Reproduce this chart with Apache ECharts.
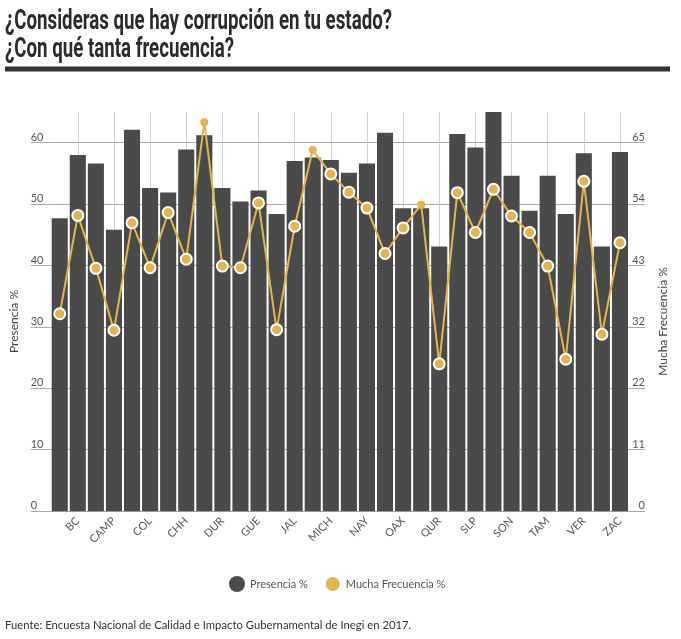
<!DOCTYPE html>
<html>
<head>
<meta charset="utf-8">
<script src="https://cdn.jsdelivr.net/npm/echarts@6/dist/echarts.min.js"></script>
<style>
  html, body { margin: 0; padding: 0; background: #fff; }
  #chart { width: 681px; height: 639px; }
</style>
</head>
<body>
<div id="chart"></div>
<script>
// estados (solo se muestra una etiqueta de cada dos)
var estados = ['AGS', 'BC', 'BCS', 'CAMP', 'COAH', 'COL', 'CHIS', 'CHH', 'CDMX', 'DUR',
    'GTO', 'GUE', 'HGO', 'JAL', 'MEX', 'MICH', 'MOR', 'NAY', 'NL', 'OAX',
    'PUE', 'QUR', 'QROO', 'SLP', 'SIN', 'SON', 'TAB', 'TAM', 'TLAX', 'VER', 'YUC', 'ZAC'];

var presencia = [47.7, 58.0, 56.6, 45.8, 62.1, 52.6, 51.9, 58.9, 61.2, 52.6,
    50.4, 52.2, 48.4, 57.0, 57.6, 57.2, 55.1, 56.6, 61.6, 49.3,
    49.3, 43.1, 61.4, 59.2, 65.0, 54.6, 48.9, 54.6, 48.4, 58.3, 43.1, 58.5];

var muchaFrecuencia = [34.7, 52.0, 42.7, 31.8, 50.7, 42.8, 52.5, 44.3, 68.4, 43.1,
    42.8, 54.2, 31.9, 50.1, 63.5, 59.3, 56.1, 53.3, 45.3, 49.8,
    53.9, 25.9, 56.0, 49.0, 56.6, 51.9, 49.0, 43.1, 26.7, 58.0, 31.1, 47.2];

var ticksIzq = [0, 10, 20, 30, 40, 50, 60];
var ticksDer = [0, 10.8, 21.6, 32.4, 43.2, 54, 64.8];

var titulo1 = '¿Consideras que hay corrupción en tu estado?';
var titulo2 = '¿Con qué tanta frecuencia?';
var fuente = 'Fuente: Encuesta Nacional de Calidad e Impacto Gubernamental de Inegi en 2017.';

var gris = '#4a4a4a';
var oro = '#e2b64c';
var puntosSimples = [8, 14, 20];

// fuente condensada: se mide y se comprime a lo ancho
var fontTitulo = 'bold 28px Roboto';
var ctx = document.createElement('canvas').getContext('2d');
ctx.font = fontTitulo;
var escala = 387 / ctx.measureText(titulo1).width;

var myChart = echarts.init(document.getElementById('chart'));
myChart.setOption({
    backgroundColor: '#fff',
    textStyle: { fontFamily: 'Lato' },
    graphic: [
        { type: 'text', x: 5, y: 21.5, scaleX: escala,
          style: { text: titulo1, font: fontTitulo, fill: '#2b2b2b', verticalAlign: 'middle' } },
        { type: 'text', x: 5, y: 50, scaleX: escala,
          style: { text: titulo2, font: fontTitulo, fill: '#2b2b2b', verticalAlign: 'middle' } },
        { type: 'rect', shape: { x: 5, y: 66.5, width: 665, height: 5 }, style: { fill: '#333' } },
        { type: 'text', x: 5, y: 625,
          style: { text: fuente, font: '11.3px Lato', fill: '#333', verticalAlign: 'middle' } }
    ],
    legend: {
        left: 224,
        top: 570,
        icon: 'circle',
        itemWidth: 16,
        itemHeight: 16,
        itemGap: 16,
        textStyle: { color: '#555', fontSize: 11 },
        data: ['Presencia %', 'Mucha Frecuencia %']
    },
    grid: { left: 50.7, right: 52, top: 112, bottom: 128, outerBoundsMode: 'none', containLabel: false },
    xAxis: {
        type: 'category',
        data: estados,
        axisLine: { lineStyle: { color: '#999' } },
        axisTick: { show: false },
        axisLabel: {
            interval: function (i) { return i % 2 === 1; },
            rotate: 45,
            margin: 8,
            color: '#555',
            fontSize: 11
        },
        splitLine: {
            show: true,
            interval: function (i) { return i % 2 === 1; },
            alignWithLabel: true,
            lineStyle: { color: '#cfcfcf' }
        }
    },
    yAxis: [{
        type: 'value',
        min: 0,
        max: 65,
        interval: 10,
        name: 'Presencia %',
        nameLocation: 'middle',
        nameGap: 30,
        nameTextStyle: { color: '#444', fontSize: 12, padding: [0, 20, 0, 0] },
        axisLine: { show: false },
        axisTick: { show: true, length: 20, customValues: ticksIzq, lineStyle: { color: '#aaa' } },
        axisLabel: {
            customValues: ticksIzq,
            margin: 20, align: 'left', verticalAlign: 'bottom',
            color: '#555', fontSize: 11
        },
        splitLine: { lineStyle: { color: '#aaa' } }
    }, {
        type: 'value',
        min: 0,
        max: 70.2,
        interval: 10.8,
        name: 'Mucha Frecuencia %',
        nameLocation: 'middle',
        nameGap: 28,
        nameTextStyle: { color: '#444', fontSize: 12, padding: [0, 20, 0, 0] },
        axisLine: { show: false },
        axisTick: { show: true, length: 16, customValues: ticksDer, lineStyle: { color: '#aaa' } },
        axisLabel: {
            customValues: ticksDer,
            margin: 16, align: 'right', verticalAlign: 'bottom',
            color: '#555', fontSize: 11,
            formatter: function (v) { return Math.round(v); }
        },
        splitLine: { show: false }
    }],
    series: [{
        name: 'Presencia %',
        type: 'bar',
        data: presencia,
        barCategoryGap: '11%',
        itemStyle: { color: gris }
    }, {
        name: 'Mucha Frecuencia %',
        type: 'line',
        yAxisIndex: 1,
        data: muchaFrecuencia.map(function (v, i) {
            if (puntosSimples.indexOf(i) >= 0) {
                return { value: v, symbolSize: 8, itemStyle: { borderWidth: 0 } };
            }
            return v;
        }),
        symbol: 'circle',
        symbolSize: 11,
        showAllSymbol: true,
        lineStyle: { color: oro, width: 2 },
        itemStyle: { color: oro, borderColor: '#fff', borderWidth: 2 },
        z: 3
    }]
});
</script>
</body>
</html>
